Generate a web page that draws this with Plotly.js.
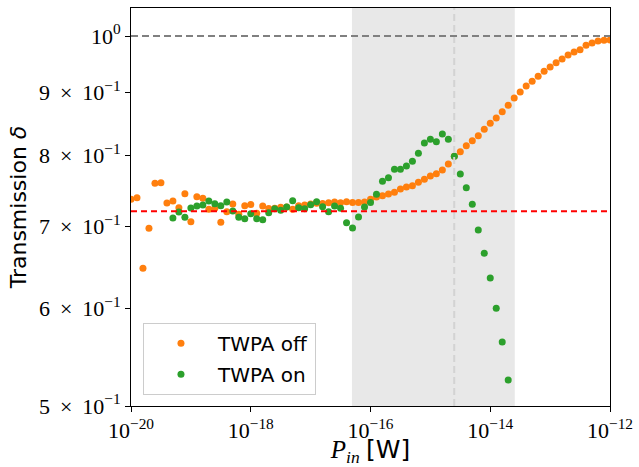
<!DOCTYPE html>
<html>
<head>
<meta charset="utf-8">
<script src="https://cdn.plot.ly/plotly-3.0.1.min.js"></script>
<style>html,body{margin:0;padding:0;background:#fff;}#chart{width:639px;height:467px;}</style>
</head>
<body>
<div id="chart"></div>
<script>
// Input power exponents (log10 of P_in in W)
const offExp = [-20.0,-19.9,-19.8,-19.7,-19.6,-19.5,-19.4,-19.3,-19.2,-19.1,-19.0,-18.9,-18.8,-18.7,-18.6,-18.5,-18.4,-18.3,-18.2,-18.1,
  -18.0,-17.9,-17.8,-17.7,-17.6,-17.5,-17.4,-17.3,-17.2,-17.1,-17.0,-16.9,-16.8,-16.7,-16.6,-16.5,-16.4,-16.3,-16.2,-16.1,
  -16.0,-15.9,-15.8,-15.7,-15.6,-15.5,-15.4,-15.3,-15.2,-15.1,-15.0,-14.9,-14.8,-14.7,-14.6,-14.5,-14.4,-14.3,-14.2,-14.1,
  -14.0,-13.9,-13.8,-13.7,-13.6,-13.5,-13.4,-13.3,-13.2,-13.1,-13.0,-12.9,-12.8,-12.7,-12.6,-12.5,-12.4,-12.3,-12.2,-12.1,-12.0];
const offVal = [0.7364,0.7386,0.6472,0.6975,0.7588,0.7597,0.7313,0.7341,0.7249,0.7442,0.7062,0.7400,0.7378,0.7227,0.7241,0.7054,0.7195,0.7300,0.7160,0.7276,
  0.7293,0.7174,0.7272,0.7238,0.7241,0.7255,0.7260,0.7227,0.7276,0.7286,0.7300,0.7309,0.7306,0.7317,0.7327,0.7317,0.7331,0.7322,0.7322,0.7327,
  0.7364,0.7396,0.7414,0.7438,0.7461,0.7508,0.7536,0.7554,0.7603,0.7645,0.7693,0.7726,0.7780,0.7868,0.7984,0.8050,0.8142,0.8219,0.8296,0.8396,
  0.8491,0.8576,0.8678,0.8782,0.8903,0.9004,0.9106,0.9186,0.9273,0.9360,0.9436,0.9512,0.9578,0.9651,0.9705,0.9747,0.9827,0.9870,0.9907,0.9920,0.9925];

const onExp = [-19.3,-19.2,-19.1,-19.0,-18.9,-18.8,-18.7,-18.6,-18.5,-18.4,-18.3,-18.2,-18.1,
  -18.0,-17.9,-17.8,-17.7,-17.6,-17.5,-17.4,-17.3,-17.2,-17.1,-17.0,-16.9,-16.8,-16.7,-16.6,-16.5,-16.4,-16.3,-16.2,-16.1,
  -16.0,-15.9,-15.8,-15.7,-15.6,-15.5,-15.4,-15.3,-15.2,-15.1,-15.0,-14.9,-14.8,-14.7,-14.6,-14.5,-14.4,-14.3,-14.2,-14.1,
  -14.0,-13.9,-13.8,-13.7];
const onVal = [0.7111,0.7191,0.7120,0.7245,0.7272,0.7286,0.7341,0.7304,0.7276,0.7327,0.7205,0.7120,0.7101,
  0.7168,0.7101,0.7088,0.7182,0.7236,0.7214,0.7260,0.7345,0.7249,0.7236,0.7290,0.7331,0.7263,0.7195,0.7272,0.7241,0.7048,0.6979,0.7124,0.7260,
  0.7320,0.7434,0.7617,0.7668,0.7790,0.7790,0.7838,0.7908,0.8027,0.8184,0.8240,0.8203,0.8323,0.8240,0.7982,0.7722,0.7526,0.7296,0.6953,0.6656,
  0.6355,0.6006,0.5636,0.5249];

const refLevel = 0.72;       // red dashed reference
const unityLevel = 1.0;      // grey dashed
const shadeRange = [4.9e-17, 2.57e-14];
const markerPower = 2.5e-15;

const xTickVals = [1e-20, 1e-18, 1e-16, 1e-14, 1e-12];
const xTickText = ['10<sup>−20</sup>','10<sup>−18</sup>','10<sup>−16</sup>','10<sup>−14</sup>','10<sup>−12</sup>'];
const yTickVals = [0.5, 0.6, 0.7, 0.8, 0.9, 1.0];
const yTickText = ['5\u2009 ×\u2009 10<sup>−1</sup>','6\u2009 ×\u2009 10<sup>−1</sup>','7\u2009 ×\u2009 10<sup>−1</sup>',
                   '8\u2009 ×\u2009 10<sup>−1</sup>','9\u2009 ×\u2009 10<sup>−1</sup>','10<sup>0</sup>'];

const toPow = a => a.map(e => Math.pow(10, e));

const traces = [
  {x: toPow(offExp), y: offVal, mode: 'markers', type: 'scatter', name: 'TWPA off',
   marker: {color: '#ff7f0e', size: 7}, legendgroup: 'a', cliponaxis: true},
  {x: toPow(onExp), y: onVal, mode: 'markers', type: 'scatter', name: 'TWPA on',
   marker: {color: '#2ca02c', size: 7}, legendgroup: 'b', cliponaxis: true}
];

const layout = {
  width: 639, height: 467,
  margin: {l: 131, r: 29, t: 8, b: 61},
  paper_bgcolor: '#fff', plot_bgcolor: '#fff',
  showlegend: true,
  legend: {x: 0.025, y: 0.028, xanchor: 'left', yanchor: 'bottom',
    bgcolor: 'rgba(255,255,255,0.85)', bordercolor: '#cccccc', borderwidth: 1,
    font: {family: 'DejaVu Sans, sans-serif', size: 20, color: '#000'},
    itemwidth: 64, traceorder: 'grouped', tracegroupgap: 2},
  xaxis: {type: 'log', range: [-20, -12], tickvals: xTickVals, ticktext: xTickText,
    tickfont: {family: 'Liberation Serif, serif', size: 22, color: '#000'},
    ticks: 'outside', ticklen: 5, tickcolor: '#000',
    showline: true, linecolor: '#000', linewidth: 1, mirror: true,
    showgrid: false, zeroline: false,
    title: {text: '<i>P</i><sub><i>in</i></sub> <span style="font-family:DejaVu Sans">[W]</span>',
      font: {family: 'Liberation Serif, serif', size: 25, color: '#000'}, standoff: 10}},
  yaxis: {type: 'log', range: [Math.log10(0.5), 0.0228], tickvals: yTickVals, ticktext: yTickText,
    tickfont: {family: 'Liberation Serif, serif', size: 22, color: '#000'},
    ticks: 'outside', ticklen: 5, tickcolor: '#000',
    showline: true, linecolor: '#000', linewidth: 1, mirror: true,
    showgrid: false, zeroline: false,
    title: {text: 'Transmission <i>δ</i>', font: {family: 'DejaVu Sans, sans-serif', size: 22, color: '#000'}, standoff: 6}},
  shapes: [
    {type: 'rect', xref: 'x', yref: 'paper', x0: shadeRange[0], x1: shadeRange[1], y0: 0, y1: 1,
     fillcolor: '#e8e8e8', line: {width: 0}, layer: 'below'},
    {type: 'line', xref: 'x', yref: 'paper', x0: markerPower, x1: markerPower, y0: 0, y1: 1,
     line: {color: '#d3d3d3', width: 2, dash: '7px,4px'}, layer: 'above'},
    {type: 'line', xref: 'paper', yref: 'y', x0: 0, x1: 1, y0: unityLevel, y1: unityLevel,
     line: {color: '#808080', width: 2, dash: '7px,4px'}, layer: 'above'},
    {type: 'line', xref: 'paper', yref: 'y', x0: 0, x1: 1, y0: refLevel, y1: refLevel,
     line: {color: '#ff0000', width: 2, dash: '6px,4px'}, layer: 'above'}
  ]
};

Plotly.newPlot('chart', traces, layout, {displayModeBar: false, staticPlot: true});
</script>
</body>
</html>
